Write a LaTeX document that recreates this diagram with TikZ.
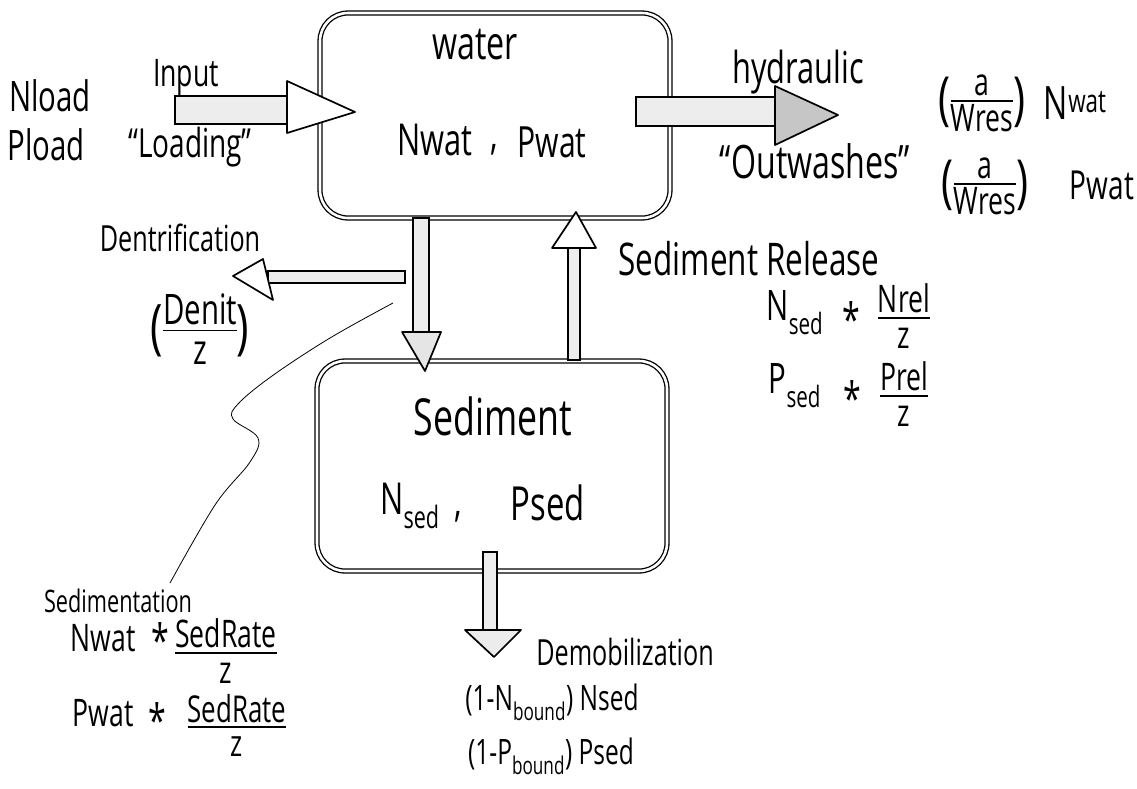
\documentclass[tikz,border=0pt]{standalone}
\usepackage{fontspec}
\setmainfont{Open Sans}[FakeStretch=0.7]
\usetikzlibrary{calc}
\setlength{\arrayrulewidth}{1.6pt}
\newcommand\myfrac[2]{\begin{tabular}{@{}c@{}}#1\\[-7pt]\hline\rule{0pt}{0.78em}#2\end{tabular}}
\newcommand\bp[2]{\raisebox{-0.16em}{\fontsize{#1}{#1}\selectfont #2}}
\newcommand\fs[1]{\fontsize{#1}{#1}\selectfont}
\begin{document}
\begin{tikzpicture}[x=1pt,y=-1pt,
  box/.style={draw, double, double distance=2.6pt, line width=1.3pt, rounded corners=28pt, inner sep=0pt},
  shaft/.style={draw, line width=1.4pt, fill=gray!14},
  head/.style={draw, line width=1.7pt, fill=white, line join=round},
  t/.style={inner sep=0pt, font=\fs{#1}},
  lead/.style={draw, line width=0.8pt}
]
\useasboundingbox[fill=white] (0,0) rectangle (1137,788);

% boxes
\node[box, minimum width=350pt, minimum height=205pt] (water) at (495,115.5) {};
\node[box, minimum width=350pt, minimum height=210pt] (sed) at (492,466) {};

% named arrow ends
\coordinate (inTail) at (175,108);
\coordinate (inTip) at (355,112);
\coordinate (outTail) at (636,111);
\coordinate (outTip) at (838,115);
\coordinate (dnTail) at (421,218);
\coordinate (dnTip) at (425,371);
\coordinate (upTail) at (574,360);
\coordinate (upTip) at (576,212);
\coordinate (deTail) at (405,277);
\coordinate (deTip) at (233,276);
\coordinate (dmTail) at (490,552);
\coordinate (dmTip) at (494,657);

% input arrow
\draw[shaft] ($(inTail)+(0,-12)$) rectangle ($(inTip)+(-67,12)$);
\draw[head] ($(inTip)+(-68,-31)$) -- (inTip) -- ($(inTip)+(-68,21)$) -- cycle;
% output arrow
\draw[shaft] ($(outTail)+(0,-14)$) rectangle ($(outTip)+(-62,11)$);
\draw[head, fill=gray!45] ($(outTip)+(-63,-29)$) -- (outTip) -- ($(outTip)+(-63,30)$) -- cycle;
% down arrow (sedimentation)
\draw[shaft] ($(dnTail)+(-8,0)$) rectangle ($(dnTip)+(4,-38)$);
\draw[head, fill=gray!20] ($(dnTip)+(-23,-39)$) -- ($(dnTip)+(16,-39)$) -- (dnTip) -- cycle;
% up arrow (release)
\draw[shaft] ($(upTail)+(-6,0)$) rectangle ($(upTip)+(4,36)$);
\draw[head] ($(upTip)+(-24,36)$) -- ($(upTip)+(20,36)$) -- (upTip) -- cycle;
% denitrification arrow
\draw[shaft] ($(deTail)+(0,-6)$) rectangle ($(deTip)+(35,7)$);
\draw[head] ($(deTip)+(30,-17)$) -- (deTip) -- ($(deTip)+(40,24)$) -- cycle;
% demobilization arrow
\draw[shaft] ($(dmTail)+(-7,0)$) rectangle ($(dmTip)+(3,-27)$);
\draw[head, fill=gray!15] ($(dmTip)+(-29,-27)$) -- ($(dmTip)+(27,-27)$) -- (dmTip) -- cycle;

% leader line to sedimentation
\coordinate (ldA) at (393,303);
\coordinate (ldB) at (170,583);
\draw[lead] plot[smooth, tension=0.6] coordinates {(ldA) (330,338) (272,376) (238,404) (233,419) (258,438) (250,462) (215,505) (ldB)};

% texts: left
\node[t=38] (input) at (186,77) {Input};
\node[t=42] (nload) at (50,96) {Nload};
\node[t=42] (pload) at (46,145) {Pload};
\node[t=40] (loading) at (190,147) {``Loading''};

% water box
\node[t=46] (wlab) at (475,45) {water};
\node[t=44] (nwat) at (435,140) {Nwat};
\node[t=44] (wcomma) at (494,150) {,};
\node[t=43] (pwat) at (552,142) {Pwat};

% right top
\node[t=44] (hyd) at (798,72) {hydraulic};
\node[t=46] (outw) at (815,161) {``Outwashes''};
\node[t=38] (fr1) at (982,106) {\bp{58}{(}\myfrac{a}{Wres}\bp{58}{)}};
\node[t=46] (nwat2) at (1075,103) {N\raisebox{0.15em}{\fs{32}wat}};
\node[t=38] (fr2) at (985,189) {\bp{58}{(}\myfrac{a}{Wres}\bp{58}{)}};
\node[t=40] (pwat2) at (1102,185) {Pwat};

% denitrification
\node[t=36] (denl) at (180,238) {Dentrification};
\node[t=42] (denf) at (200,335) {\bp{60}{(}\myfrac{Denit}{z}\bp{60}{)}};

% sediment release
\node[t=45] (rel) at (749,259) {Sediment Release};
\node[t=42] (nsedr) at (795,313) {N\textsubscript{sed}};
\node[t=46] (st1) at (851,319) {*};
\node[t=38] (nrel) at (904,322) {\myfrac{Nrel}{z}};
\node[t=42] (psedr) at (795,386) {P\textsubscript{sed}};
\node[t=46] (st2) at (852,398) {*};
\node[t=38] (prel) at (904,400) {\myfrac{Prel}{z}};

% sediment box
\node[t=51] (slab) at (493,416) {Sediment};
\node[t=44] (nsed) at (410,506) {N\textsubscript{sed}};
\node[t=44] (scomma) at (458,517) {,};
\node[t=47] (psed) at (548,503) {Psed};

% sedimentation
\node[t=31] (sedl) at (118,601) {Sedimentation};
\node[t=38] (nwat3) at (103,638) {Nwat};
\node[t=46] (st3) at (160,640) {*};
\node[t=38] (sr1) at (226,657) {\myfrac{SedRate}{z}};
\node[t=38] (pwat3) at (103,713) {Pwat};
\node[t=46] (st4) at (157,720) {*};
\node[t=37] (sr2) at (237,731) {\myfrac{SedRate}{z}};

% demobilization
\node[t=36] (dem) at (625,652) {Demobilization};
\node[t=35] (nb) at (552,702) {(1-N\textsubscript{bound}) Nsed};
\node[t=35] (pb) at (551,756) {(1-P\textsubscript{bound}) Psed};
\end{tikzpicture}
\end{document}
